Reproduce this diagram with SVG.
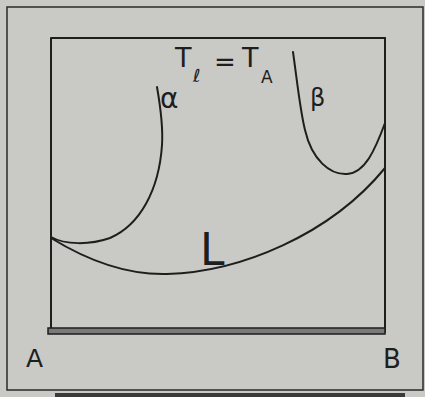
<svg xmlns="http://www.w3.org/2000/svg" width="425" height="397" viewBox="0 0 425 397">
<style>
.ln{fill:none;stroke:#1e1e1e;stroke-width:2;stroke-linecap:round}
.tx{font-family:"DejaVu Sans",sans-serif;fill:#1e1e1e}
</style>
<rect x="0" y="0" width="425" height="397" fill="#c9c9c6"/>
<g id="frame">
<rect x="7" y="7" width="416" height="383" fill="none" stroke="#2a2a2a" stroke-width="1.5"/>
<rect x="55" y="393" width="350" height="4" fill="#3a3a3a"/>
</g>
<g id="box">
<path class="ln" d="M51,38 L51,332 M51,38 L385,38 L385,332"/>
<rect x="48" y="328" width="337" height="6" fill="#7a7a78" stroke="#1e1e1e" stroke-width="1.5"/>
</g>
<g id="connectors">
<path id="alpha-curve" class="ln" d="M157,87 C161,110 163,130 162,145 C159,190 140,225 110,238 C90,245 65,245 51,237"/>
<path id="liquidus" class="ln" d="M51,238 C90,262 130,275 167,274 C240,272 330,235 385,168"/>
<path id="beta-curve" class="ln" d="M293,52 C297,80 300,110 305,130 C312,160 330,175 347,174 C365,173 375,150 385,123"/>
</g>
<g id="labels">
<text class="tx" x="175" y="67" font-size="27">T</text>
<text class="tx" x="193" y="82" font-size="18">ℓ</text>
<text class="tx" x="214" y="71" font-size="26">=</text>
<text class="tx" x="242" y="67" font-size="27">T</text>
<text class="tx" x="261" y="83" font-size="17">A</text>
<text class="tx" x="160" y="108" font-size="28">α</text>
<text class="tx" x="310" y="106" font-size="24">β</text>
<text class="tx" x="200" y="265" font-size="44">L</text>
<text class="tx" x="26" y="367" font-size="25">A</text>
<text class="tx" x="383" y="368" font-size="26">B</text>
</g>
</svg>
